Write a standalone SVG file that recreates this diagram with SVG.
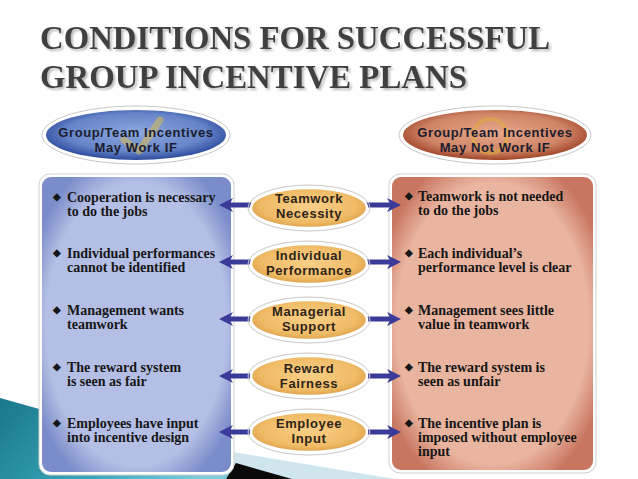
<svg xmlns="http://www.w3.org/2000/svg" width="638" height="479" viewBox="0 0 638 479">
<defs>
<linearGradient id="teal" x1="0" y1="0" x2="1" y2="0.3">
<stop offset="0" stop-color="#17788a"/><stop offset="0.6" stop-color="#3aa6b8"/><stop offset="1" stop-color="#7cccd8"/>
</linearGradient>
<radialGradient id="pBlue" cx="0.5" cy="0.5" r="0.6">
<stop offset="0.8" stop-color="#b3bfe4"/><stop offset="1" stop-color="#7a8cca"/>
</radialGradient>
<radialGradient id="pRed" cx="0.5" cy="0.5" r="0.6">
<stop offset="0.8" stop-color="#e9b4a0"/><stop offset="1" stop-color="#c87660"/>
</radialGradient>
<radialGradient id="hBlue" cx="0.5" cy="0.45" r="0.55">
<stop offset="0" stop-color="#8ea8de"/><stop offset="0.7" stop-color="#6684c8"/><stop offset="1" stop-color="#2c4a9c"/>
</radialGradient>
<radialGradient id="hRed" cx="0.5" cy="0.45" r="0.55">
<stop offset="0" stop-color="#e7a88a"/><stop offset="0.7" stop-color="#cf8466"/><stop offset="1" stop-color="#a04428"/>
</radialGradient>
<radialGradient id="gold" cx="0.5" cy="0.45" r="0.55">
<stop offset="0" stop-color="#f8cf88"/><stop offset="0.75" stop-color="#f0bb66"/><stop offset="1" stop-color="#dca04a"/>
</radialGradient>
<filter id="shadow" x="-5%" y="-20%" width="110%" height="150%">
<feDropShadow dx="2" dy="2" stdDeviation="1" flood-color="#9a9a9a" flood-opacity="0.7"/>
</filter>
<marker id="ah" viewBox="0 0 14 14" markerUnits="userSpaceOnUse" markerWidth="14" markerHeight="14" refX="5" refY="7" orient="auto">
<path d="M0,0 L14,7 L0,14 L4,7 Z" fill="#3a3a98"/>
</marker>
<style>
.title{font-family:"Liberation Serif",serif;font-weight:bold;font-size:33px;fill:#404040}
.hdr{font-family:"Liberation Sans",Arial,sans-serif;font-weight:bold;font-size:13px;letter-spacing:0.6px;fill:#1c1c30;text-anchor:middle}
.ctr{font-family:"Liberation Sans",Arial,sans-serif;font-weight:bold;font-size:13px;letter-spacing:0.6px;fill:#2e2418;text-anchor:middle}
.pt{font-family:"Liberation Serif",serif;font-weight:bold;font-size:14px;fill:#161616}
.bul{font-family:"Liberation Serif",serif;font-weight:bold;font-size:10px;fill:#161616}
.conn{stroke:#3a3a98;stroke-width:5;fill:none;marker-end:url(#ah)}
.gold{fill:url(#gold);stroke:#ffffff;stroke-width:2.5}
.goldo{fill:none;stroke:#c9c9c9;stroke-width:1}
</style>
</defs>
<rect width="638" height="479" fill="#ffffff"/>
<!-- background decoration -->
<polygon points="0,398 250,468 250,479 0,479" fill="url(#teal)"/>
<polygon points="233,452 395,479 233,479" fill="#cfe6ee"/>
<polygon points="236,463 292,479 226,479" fill="#0a0a0a"/>
<!-- title -->
<g id="title" filter="url(#shadow)">
<text class="title" x="40" y="49" textLength="510" lengthAdjust="spacingAndGlyphs">CONDITIONS FOR SUCCESSFUL</text>
<text class="title" x="40" y="88" textLength="427" lengthAdjust="spacingAndGlyphs">GROUP INCENTIVE PLANS</text>
</g>
<!-- headers -->
<g id="header-left">
<ellipse cx="136" cy="135" rx="94" ry="29" fill="#ffffff" stroke="#c8c8c8" stroke-width="1"/>
<ellipse cx="136" cy="135" rx="90" ry="25" fill="url(#hBlue)"/>
<path d="M124,140 L139,151 L160,120" fill="none" stroke="#d8bc50" stroke-width="7" stroke-linecap="round" stroke-linejoin="round" opacity="0.55"/>
<text class="hdr" x="136" y="137">Group/Team Incentives</text>
<text class="hdr" x="136" y="152">May Work IF</text>
</g>
<g id="header-right">
<ellipse cx="495" cy="135" rx="96" ry="29" fill="#ffffff" stroke="#c8c8c8" stroke-width="1"/>
<ellipse cx="495" cy="135" rx="92" ry="25" fill="url(#hRed)"/>
<circle cx="490" cy="136" r="17" fill="none" stroke="#e0ac40" stroke-width="4" opacity="0.55"/>
<text class="hdr" x="495" y="137">Group/Team Incentives</text>
<text class="hdr" x="495" y="152">May Not Work IF</text>
</g>
<!-- panels -->
<g id="panel-left">
<rect x="39" y="174" width="195" height="301" rx="11" fill="#ffffff" stroke="#cfcfcf" stroke-width="1"/>
<rect x="42" y="177" width="189" height="295" rx="9" fill="url(#pBlue)"/>
<text class="bul" x="53" y="200">◆</text><text class="pt" x="67" y="202">Cooperation is necessary</text>
<text class="pt" x="67" y="216">to do the jobs</text>
<text class="bul" x="53" y="256">◆</text><text class="pt" x="67" y="258">Individual performances</text>
<text class="pt" x="67" y="272">cannot be identified</text>
<text class="bul" x="53" y="313">◆</text><text class="pt" x="67" y="315">Management wants</text>
<text class="pt" x="67" y="329">teamwork</text>
<text class="bul" x="53" y="370">◆</text><text class="pt" x="67" y="372">The reward system</text>
<text class="pt" x="67" y="386">is seen as fair</text>
<text class="bul" x="53" y="426">◆</text><text class="pt" x="67" y="428">Employees have input</text>
<text class="pt" x="67" y="442">into incentive design</text>
</g>
<g id="panel-right">
<rect x="389" y="174" width="207" height="299" rx="11" fill="#ffffff" stroke="#cfcfcf" stroke-width="1"/>
<rect x="392" y="177" width="201" height="293" rx="9" fill="url(#pRed)"/>
<text class="bul" x="405" y="199">◆</text><text class="pt" x="418" y="201">Teamwork is not needed</text>
<text class="pt" x="418" y="215">to do the jobs</text>
<text class="bul" x="405" y="256">◆</text><text class="pt" x="418" y="258">Each individual’s</text>
<text class="pt" x="418" y="272">performance level is clear</text>
<text class="bul" x="405" y="313">◆</text><text class="pt" x="418" y="315">Management sees little</text>
<text class="pt" x="418" y="329">value in teamwork</text>
<text class="bul" x="405" y="370">◆</text><text class="pt" x="418" y="372">The reward system is</text>
<text class="pt" x="418" y="386">seen as unfair</text>
<text class="bul" x="405" y="426">◆</text><text class="pt" x="418" y="428">The incentive plan is</text>
<text class="pt" x="418" y="442">imposed without employee</text>
<text class="pt" x="418" y="456">input</text>
</g>
<!-- connectors -->
<g id="connectors">
<path class="conn" d="M252,205 L228,205"/><path class="conn" d="M366,205 L392,205"/>
<path class="conn" d="M252,262 L228,262"/><path class="conn" d="M366,262 L392,262"/>
<path class="conn" d="M252,319 L228,319"/><path class="conn" d="M366,319 L392,319"/>
<path class="conn" d="M252,376 L228,376"/><path class="conn" d="M366,376 L392,376"/>
<path class="conn" d="M252,432 L228,432"/><path class="conn" d="M366,432 L392,432"/>
</g>
<!-- center nodes -->
<g id="teamwork-necessity">
<ellipse class="goldo" cx="309" cy="208" rx="61" ry="23"/>
<ellipse class="gold" cx="309" cy="208" rx="58" ry="20"/>
<text class="ctr" x="309" y="203">Teamwork</text><text class="ctr" x="309" y="218">Necessity</text>
</g>
<g id="individual-performance">
<ellipse class="goldo" cx="309" cy="264" rx="61" ry="23"/>
<ellipse class="gold" cx="309" cy="264" rx="58" ry="20"/>
<text class="ctr" x="309" y="260">Individual</text><text class="ctr" x="309" y="275">Performance</text>
</g>
<g id="managerial-support">
<ellipse class="goldo" cx="309" cy="320" rx="61" ry="23"/>
<ellipse class="gold" cx="309" cy="320" rx="58" ry="20"/>
<text class="ctr" x="309" y="316">Managerial</text><text class="ctr" x="309" y="331">Support</text>
</g>
<g id="reward-fairness">
<ellipse class="goldo" cx="309" cy="376" rx="61" ry="23"/>
<ellipse class="gold" cx="309" cy="376" rx="58" ry="20"/>
<text class="ctr" x="309" y="373">Reward</text><text class="ctr" x="309" y="388">Fairness</text>
</g>
<g id="employee-input">
<ellipse class="goldo" cx="309" cy="432" rx="61" ry="23"/>
<ellipse class="gold" cx="309" cy="432" rx="58" ry="20"/>
<text class="ctr" x="309" y="428">Employee</text><text class="ctr" x="309" y="443">Input</text>
</g>
</svg>
